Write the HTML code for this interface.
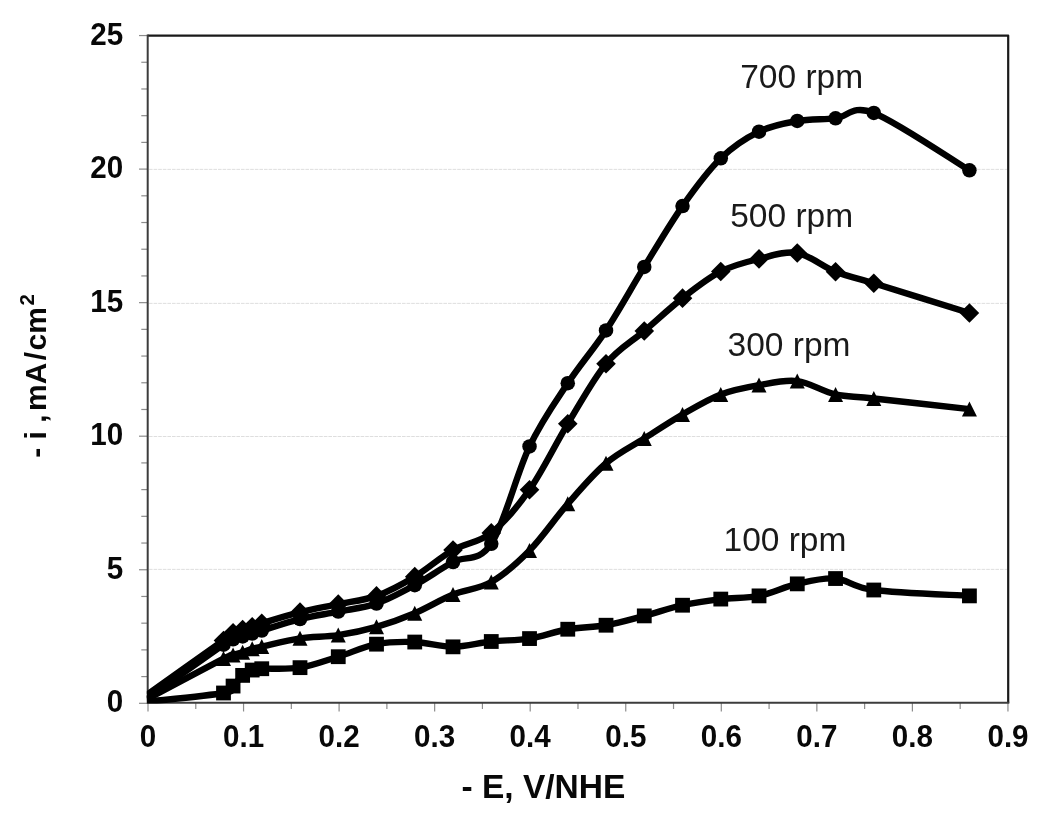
<!DOCTYPE html>
<html><head><meta charset="utf-8"><title>chart</title>
<style>
html,body{margin:0;padding:0;background:#fff;}
body{width:1049px;height:818px;position:relative;overflow:hidden;font-family:"Liberation Sans",sans-serif;color:#080808;}
.t{position:absolute;white-space:nowrap;line-height:1;}
.yl{font-weight:bold;font-size:29.6px;text-align:right;width:60px;left:63.2px;transform:scaleY(1.03);}
.xl{font-weight:bold;font-size:29.6px;transform:scaleY(1.03);text-align:center;width:80px;}
.sl{font-size:33.5px;color:#1a1a1a;}
</style></head><body>
<div id="wrap" style="position:absolute;left:0;top:0;width:1049px;height:818px;filter:blur(0.45px);">
<svg width="1049" height="818" viewBox="0 0 1049 818" style="position:absolute;left:0;top:0">
<rect x="0" y="0" width="1049" height="818" fill="#fff"/>
<defs><clipPath id="pc"><rect x="146.8" y="30" width="870" height="673.6"/></clipPath></defs>
<line x1="149" x2="1007" y1="569.40" y2="569.40" stroke="#d6d6d6" stroke-width="0.8" stroke-dasharray="3.6,1"/>
<line x1="149" x2="1007" y1="436.50" y2="436.50" stroke="#d6d6d6" stroke-width="0.8" stroke-dasharray="3.6,1"/>
<line x1="149" x2="1007" y1="303.40" y2="303.40" stroke="#d6d6d6" stroke-width="0.8" stroke-dasharray="3.6,1"/>
<line x1="149" x2="1007" y1="169.40" y2="169.40" stroke="#d6d6d6" stroke-width="0.8" stroke-dasharray="3.6,1"/>
<line x1="139" x2="147.7" y1="703.30" y2="703.30" stroke="#8c8c8c" stroke-width="1.2"/>
<line x1="141.3" x2="147.7" y1="676.59" y2="676.59" stroke="#8c8c8c" stroke-width="1.2"/>
<line x1="141.3" x2="147.7" y1="649.88" y2="649.88" stroke="#8c8c8c" stroke-width="1.2"/>
<line x1="141.3" x2="147.7" y1="623.17" y2="623.17" stroke="#8c8c8c" stroke-width="1.2"/>
<line x1="141.3" x2="147.7" y1="596.46" y2="596.46" stroke="#8c8c8c" stroke-width="1.2"/>
<line x1="139" x2="147.7" y1="569.75" y2="569.75" stroke="#8c8c8c" stroke-width="1.2"/>
<line x1="141.3" x2="147.7" y1="543.04" y2="543.04" stroke="#8c8c8c" stroke-width="1.2"/>
<line x1="141.3" x2="147.7" y1="516.33" y2="516.33" stroke="#8c8c8c" stroke-width="1.2"/>
<line x1="141.3" x2="147.7" y1="489.62" y2="489.62" stroke="#8c8c8c" stroke-width="1.2"/>
<line x1="141.3" x2="147.7" y1="462.91" y2="462.91" stroke="#8c8c8c" stroke-width="1.2"/>
<line x1="139" x2="147.7" y1="436.20" y2="436.20" stroke="#8c8c8c" stroke-width="1.2"/>
<line x1="141.3" x2="147.7" y1="409.49" y2="409.49" stroke="#8c8c8c" stroke-width="1.2"/>
<line x1="141.3" x2="147.7" y1="382.78" y2="382.78" stroke="#8c8c8c" stroke-width="1.2"/>
<line x1="141.3" x2="147.7" y1="356.07" y2="356.07" stroke="#8c8c8c" stroke-width="1.2"/>
<line x1="141.3" x2="147.7" y1="329.36" y2="329.36" stroke="#8c8c8c" stroke-width="1.2"/>
<line x1="139" x2="147.7" y1="302.65" y2="302.65" stroke="#8c8c8c" stroke-width="1.2"/>
<line x1="141.3" x2="147.7" y1="275.94" y2="275.94" stroke="#8c8c8c" stroke-width="1.2"/>
<line x1="141.3" x2="147.7" y1="249.23" y2="249.23" stroke="#8c8c8c" stroke-width="1.2"/>
<line x1="141.3" x2="147.7" y1="222.52" y2="222.52" stroke="#8c8c8c" stroke-width="1.2"/>
<line x1="141.3" x2="147.7" y1="195.81" y2="195.81" stroke="#8c8c8c" stroke-width="1.2"/>
<line x1="139" x2="147.7" y1="169.10" y2="169.10" stroke="#8c8c8c" stroke-width="1.2"/>
<line x1="141.3" x2="147.7" y1="142.39" y2="142.39" stroke="#8c8c8c" stroke-width="1.2"/>
<line x1="141.3" x2="147.7" y1="115.68" y2="115.68" stroke="#8c8c8c" stroke-width="1.2"/>
<line x1="141.3" x2="147.7" y1="88.97" y2="88.97" stroke="#8c8c8c" stroke-width="1.2"/>
<line x1="141.3" x2="147.7" y1="62.26" y2="62.26" stroke="#8c8c8c" stroke-width="1.2"/>
<line x1="139" x2="147.7" y1="35.55" y2="35.55" stroke="#8c8c8c" stroke-width="1.2"/>
<line y1="702.8" y2="711.5" x1="148.00" x2="148.00" stroke="#8c8c8c" stroke-width="1.2"/>
<line y1="702.8" y2="709.0" x1="195.78" x2="195.78" stroke="#8c8c8c" stroke-width="1.2"/>
<line y1="702.8" y2="711.5" x1="243.55" x2="243.55" stroke="#8c8c8c" stroke-width="1.2"/>
<line y1="702.8" y2="709.0" x1="291.33" x2="291.33" stroke="#8c8c8c" stroke-width="1.2"/>
<line y1="702.8" y2="711.5" x1="339.10" x2="339.10" stroke="#8c8c8c" stroke-width="1.2"/>
<line y1="702.8" y2="709.0" x1="386.88" x2="386.88" stroke="#8c8c8c" stroke-width="1.2"/>
<line y1="702.8" y2="711.5" x1="434.65" x2="434.65" stroke="#8c8c8c" stroke-width="1.2"/>
<line y1="702.8" y2="709.0" x1="482.43" x2="482.43" stroke="#8c8c8c" stroke-width="1.2"/>
<line y1="702.8" y2="711.5" x1="530.20" x2="530.20" stroke="#8c8c8c" stroke-width="1.2"/>
<line y1="702.8" y2="709.0" x1="577.98" x2="577.98" stroke="#8c8c8c" stroke-width="1.2"/>
<line y1="702.8" y2="711.5" x1="625.75" x2="625.75" stroke="#8c8c8c" stroke-width="1.2"/>
<line y1="702.8" y2="709.0" x1="673.53" x2="673.53" stroke="#8c8c8c" stroke-width="1.2"/>
<line y1="702.8" y2="711.5" x1="721.30" x2="721.30" stroke="#8c8c8c" stroke-width="1.2"/>
<line y1="702.8" y2="709.0" x1="769.08" x2="769.08" stroke="#8c8c8c" stroke-width="1.2"/>
<line y1="702.8" y2="711.5" x1="816.85" x2="816.85" stroke="#8c8c8c" stroke-width="1.2"/>
<line y1="702.8" y2="709.0" x1="864.62" x2="864.62" stroke="#8c8c8c" stroke-width="1.2"/>
<line y1="702.8" y2="711.5" x1="912.40" x2="912.40" stroke="#8c8c8c" stroke-width="1.2"/>
<line y1="702.8" y2="709.0" x1="960.18" x2="960.18" stroke="#8c8c8c" stroke-width="1.2"/>
<line y1="702.8" y2="711.5" x1="1007.95" x2="1007.95" stroke="#8c8c8c" stroke-width="1.2"/>
<path d="M147.7,35.6 H1008.2 V702.7" fill="none" stroke="#1a1a1a" stroke-width="2.2" stroke-linejoin="round"/>
<path d="M147.7,34.5 V702.7 H1009.3" fill="none" stroke="#3c3c3c" stroke-width="2"/>
<path d="M147.00,701.80 C159.75,700.33 209.16,695.62 223.50,693.00 C237.85,690.37 229.88,688.99 233.07,686.06 C236.25,683.12 239.44,678.05 242.63,675.39 C245.82,672.72 249.01,671.16 252.19,670.05 C255.38,668.94 253.79,669.12 261.76,668.72 C269.73,668.32 287.26,669.65 300.01,667.65 C312.76,665.65 325.51,660.62 338.26,656.71 C351.01,652.80 363.76,646.62 376.51,644.17 C389.26,641.73 402.01,641.59 414.76,642.04 C427.51,642.48 440.27,646.93 453.02,646.84 C465.77,646.75 478.52,642.88 491.27,641.50 C504.02,640.12 516.77,640.61 529.52,638.57 C542.27,636.52 555.02,631.45 567.77,629.23 C580.52,627.01 593.27,627.45 606.02,625.23 C618.77,623.00 631.53,619.23 644.28,615.89 C657.03,612.55 669.78,608.02 682.53,605.22 C695.28,602.42 708.03,600.64 720.78,599.08 C733.53,597.53 746.28,598.41 759.03,595.88 C771.78,593.35 784.53,586.76 797.28,583.87 C810.03,580.98 822.79,577.52 835.54,578.54 C848.29,579.56 851.47,587.12 873.79,590.01 C896.10,592.90 953.48,594.90 969.42,595.88" fill="none" stroke="#000" stroke-width="6.4" stroke-linejoin="round" clip-path="url(#pc)"/>
<g fill="#000">
<rect x="216.10" y="685.60" width="14.80" height="14.80"/>
<rect x="225.67" y="678.66" width="14.80" height="14.80"/>
<rect x="235.23" y="667.99" width="14.80" height="14.80"/>
<rect x="244.79" y="662.65" width="14.80" height="14.80"/>
<rect x="254.36" y="661.32" width="14.80" height="14.80"/>
<rect x="292.61" y="660.25" width="14.80" height="14.80"/>
<rect x="330.86" y="649.31" width="14.80" height="14.80"/>
<rect x="369.11" y="636.77" width="14.80" height="14.80"/>
<rect x="407.36" y="634.64" width="14.80" height="14.80"/>
<rect x="445.62" y="639.44" width="14.80" height="14.80"/>
<rect x="483.87" y="634.10" width="14.80" height="14.80"/>
<rect x="522.12" y="631.17" width="14.80" height="14.80"/>
<rect x="560.37" y="621.83" width="14.80" height="14.80"/>
<rect x="598.62" y="617.83" width="14.80" height="14.80"/>
<rect x="636.88" y="608.49" width="14.80" height="14.80"/>
<rect x="675.13" y="597.82" width="14.80" height="14.80"/>
<rect x="713.38" y="591.68" width="14.80" height="14.80"/>
<rect x="751.63" y="588.48" width="14.80" height="14.80"/>
<rect x="789.88" y="576.47" width="14.80" height="14.80"/>
<rect x="828.14" y="571.14" width="14.80" height="14.80"/>
<rect x="866.39" y="582.61" width="14.80" height="14.80"/>
<rect x="962.02" y="588.48" width="14.80" height="14.80"/>
</g>
<path d="M147.00,699.13 C159.75,692.37 209.16,665.91 223.50,658.58 C237.85,651.24 229.88,656.18 233.07,655.11 C236.25,654.04 239.44,653.24 242.63,652.17 C245.82,651.11 249.01,649.64 252.19,648.71 C255.38,647.77 253.79,648.31 261.76,646.57 C269.73,644.84 287.26,640.21 300.01,638.30 C312.76,636.39 325.51,637.01 338.26,635.10 C351.01,633.19 363.76,630.48 376.51,626.83 C389.26,623.18 402.01,618.60 414.76,613.22 C427.51,607.84 440.27,599.75 453.02,594.55 C465.77,589.34 478.52,589.34 491.27,582.01 C504.02,574.67 516.77,563.55 529.52,550.52 C542.27,537.50 555.02,518.37 567.77,503.83 C580.52,489.29 593.27,474.17 606.02,463.28 C618.77,452.39 631.53,446.61 644.28,438.47 C657.03,430.33 669.78,421.79 682.53,414.46 C695.28,407.12 708.03,399.34 720.78,394.45 C733.53,389.55 746.28,387.33 759.03,385.11 C771.78,382.88 784.53,379.55 797.28,381.11 C810.03,382.66 822.79,391.56 835.54,394.45 C848.29,397.34 851.47,396.00 873.79,398.45 C896.10,400.89 953.48,407.34 969.42,409.12" fill="none" stroke="#000" stroke-width="6.4" stroke-linejoin="round" clip-path="url(#pc)"/>
<g fill="#000">
<path d="M223.50,651.08 L231.00,666.08 L216.00,666.08 Z"/>
<path d="M233.07,647.61 L240.57,662.61 L225.57,662.61 Z"/>
<path d="M242.63,644.67 L250.13,659.67 L235.13,659.67 Z"/>
<path d="M252.19,641.21 L259.69,656.21 L244.69,656.21 Z"/>
<path d="M261.76,639.07 L269.26,654.07 L254.26,654.07 Z"/>
<path d="M300.01,630.80 L307.51,645.80 L292.51,645.80 Z"/>
<path d="M338.26,627.60 L345.76,642.60 L330.76,642.60 Z"/>
<path d="M376.51,619.33 L384.01,634.33 L369.01,634.33 Z"/>
<path d="M414.76,605.72 L422.26,620.72 L407.26,620.72 Z"/>
<path d="M453.02,587.05 L460.52,602.05 L445.52,602.05 Z"/>
<path d="M491.27,574.51 L498.77,589.51 L483.77,589.51 Z"/>
<path d="M529.52,543.02 L537.02,558.02 L522.02,558.02 Z"/>
<path d="M567.77,496.33 L575.27,511.33 L560.27,511.33 Z"/>
<path d="M606.02,455.78 L613.52,470.78 L598.52,470.78 Z"/>
<path d="M644.28,430.97 L651.78,445.97 L636.78,445.97 Z"/>
<path d="M682.53,406.96 L690.03,421.96 L675.03,421.96 Z"/>
<path d="M720.78,386.95 L728.28,401.95 L713.28,401.95 Z"/>
<path d="M759.03,377.61 L766.53,392.61 L751.53,392.61 Z"/>
<path d="M797.28,373.61 L804.78,388.61 L789.78,388.61 Z"/>
<path d="M835.54,386.95 L843.04,401.95 L828.04,401.95 Z"/>
<path d="M873.79,390.95 L881.29,405.95 L866.29,405.95 Z"/>
<path d="M969.42,401.62 L976.92,416.62 L961.92,416.62 Z"/>
</g>
<path d="M147.00,694.60 C159.75,685.57 209.16,650.75 223.50,640.44 C237.85,630.12 229.88,634.52 233.07,632.70 C236.25,630.88 239.44,630.48 242.63,629.50 C245.82,628.52 249.01,627.85 252.19,626.83 C255.38,625.81 253.79,625.81 261.76,623.36 C269.73,620.91 287.26,615.36 300.01,612.15 C312.76,608.95 325.51,606.86 338.26,604.15 C351.01,601.44 363.76,600.46 376.51,595.88 C389.26,591.30 402.01,584.32 414.76,576.67 C427.51,569.02 440.27,557.28 453.02,549.99 C465.77,542.70 478.52,542.96 491.27,532.92 C504.02,522.87 516.77,507.88 529.52,489.69 C542.27,471.51 555.02,444.78 567.77,423.79 C580.52,402.81 593.27,379.24 606.02,363.76 C618.77,348.29 631.53,341.89 644.28,330.95 C657.03,320.01 669.78,308.05 682.53,298.13 C695.28,288.22 708.03,277.99 720.78,271.45 C733.53,264.91 746.28,261.98 759.03,258.91 C771.78,255.84 784.53,250.91 797.28,253.04 C810.03,255.18 822.79,266.69 835.54,271.72 C848.29,276.74 851.47,276.30 873.79,283.19 C896.10,290.08 953.48,308.09 969.42,313.07" fill="none" stroke="#000" stroke-width="6.4" stroke-linejoin="round" clip-path="url(#pc)"/>
<g fill="#000">
<path d="M223.50,630.64 L233.30,640.44 L223.50,650.24 L213.70,640.44 Z"/>
<path d="M233.07,622.90 L242.87,632.70 L233.07,642.50 L223.27,632.70 Z"/>
<path d="M242.63,619.70 L252.43,629.50 L242.63,639.30 L232.83,629.50 Z"/>
<path d="M252.19,617.03 L261.99,626.83 L252.19,636.63 L242.39,626.83 Z"/>
<path d="M261.76,613.56 L271.56,623.36 L261.76,633.16 L251.96,623.36 Z"/>
<path d="M300.01,602.35 L309.81,612.15 L300.01,621.95 L290.21,612.15 Z"/>
<path d="M338.26,594.35 L348.06,604.15 L338.26,613.95 L328.46,604.15 Z"/>
<path d="M376.51,586.08 L386.31,595.88 L376.51,605.68 L366.71,595.88 Z"/>
<path d="M414.76,566.87 L424.56,576.67 L414.76,586.47 L404.96,576.67 Z"/>
<path d="M453.02,540.19 L462.82,549.99 L453.02,559.79 L443.22,549.99 Z"/>
<path d="M491.27,523.12 L501.07,532.92 L491.27,542.72 L481.47,532.92 Z"/>
<path d="M529.52,479.89 L539.32,489.69 L529.52,499.49 L519.72,489.69 Z"/>
<path d="M567.77,413.99 L577.57,423.79 L567.77,433.59 L557.97,423.79 Z"/>
<path d="M606.02,353.96 L615.82,363.76 L606.02,373.56 L596.22,363.76 Z"/>
<path d="M644.28,321.15 L654.08,330.95 L644.28,340.75 L634.48,330.95 Z"/>
<path d="M682.53,288.33 L692.33,298.13 L682.53,307.93 L672.73,298.13 Z"/>
<path d="M720.78,261.65 L730.58,271.45 L720.78,281.25 L710.98,271.45 Z"/>
<path d="M759.03,249.11 L768.83,258.91 L759.03,268.71 L749.23,258.91 Z"/>
<path d="M797.28,243.24 L807.08,253.04 L797.28,262.84 L787.48,253.04 Z"/>
<path d="M835.54,261.92 L845.34,271.72 L835.54,281.52 L825.74,271.72 Z"/>
<path d="M873.79,273.39 L883.59,283.19 L873.79,292.99 L863.99,283.19 Z"/>
<path d="M969.42,303.27 L979.22,313.07 L969.42,322.87 L959.62,313.07 Z"/>
</g>
<path d="M147.00,698.60 C159.75,689.62 209.16,654.58 223.50,644.70 C237.85,634.83 229.88,640.75 233.07,639.37 C236.25,637.99 239.44,637.41 242.63,636.43 C245.82,635.46 249.01,634.48 252.19,633.50 C255.38,632.52 253.79,632.97 261.76,630.56 C269.73,628.16 287.26,622.25 300.01,619.09 C312.76,615.93 325.51,614.20 338.26,611.62 C351.01,609.04 363.76,608.02 376.51,603.62 C389.26,599.22 402.01,592.14 414.76,585.21 C427.51,578.27 440.27,568.89 453.02,562.00 C465.77,555.10 478.52,563.11 491.27,543.85 C504.02,524.60 516.77,473.24 529.52,446.47 C542.27,419.70 555.02,402.58 567.77,383.24 C580.52,363.90 593.27,349.80 606.02,330.41 C618.77,311.03 631.53,287.64 644.28,266.92 C657.03,246.19 669.78,224.18 682.53,206.09 C695.28,187.99 708.03,170.73 720.78,158.33 C733.53,145.92 746.28,137.87 759.03,131.65 C771.78,125.42 784.53,123.20 797.28,120.98 C810.03,118.75 822.79,119.64 835.54,118.31 C848.29,116.97 851.47,104.30 873.79,112.97 C896.10,121.64 953.48,160.77 969.42,170.33" fill="none" stroke="#000" stroke-width="6.4" stroke-linejoin="round" clip-path="url(#pc)"/>
<g fill="#000">
<circle cx="223.50" cy="644.70" r="7.25"/>
<circle cx="233.07" cy="639.37" r="7.25"/>
<circle cx="242.63" cy="636.43" r="7.25"/>
<circle cx="252.19" cy="633.50" r="7.25"/>
<circle cx="261.76" cy="630.56" r="7.25"/>
<circle cx="300.01" cy="619.09" r="7.25"/>
<circle cx="338.26" cy="611.62" r="7.25"/>
<circle cx="376.51" cy="603.62" r="7.25"/>
<circle cx="414.76" cy="585.21" r="7.25"/>
<circle cx="453.02" cy="562.00" r="7.25"/>
<circle cx="491.27" cy="543.85" r="7.25"/>
<circle cx="529.52" cy="446.47" r="7.25"/>
<circle cx="567.77" cy="383.24" r="7.25"/>
<circle cx="606.02" cy="330.41" r="7.25"/>
<circle cx="644.28" cy="266.92" r="7.25"/>
<circle cx="682.53" cy="206.09" r="7.25"/>
<circle cx="720.78" cy="158.33" r="7.25"/>
<circle cx="759.03" cy="131.65" r="7.25"/>
<circle cx="797.28" cy="120.98" r="7.25"/>
<circle cx="835.54" cy="118.31" r="7.25"/>
<circle cx="873.79" cy="112.97" r="7.25"/>
<circle cx="969.42" cy="170.33" r="7.25"/>
</g>
</svg>
<div class="t yl" style="top:687.0px">0</div>
<div class="t yl" style="top:553.6px">5</div>
<div class="t yl" style="top:420.2px">10</div>
<div class="t yl" style="top:286.8px">15</div>
<div class="t yl" style="top:153.4px">20</div>
<div class="t yl" style="top:20.0px">25</div>
<div class="t xl" style="left:108.0px;top:721.6px">0</div>
<div class="t xl" style="left:203.6px;top:721.6px">0.1</div>
<div class="t xl" style="left:299.1px;top:721.6px">0.2</div>
<div class="t xl" style="left:394.7px;top:721.6px">0.3</div>
<div class="t xl" style="left:490.2px;top:721.6px">0.4</div>
<div class="t xl" style="left:585.8px;top:721.6px">0.5</div>
<div class="t xl" style="left:681.3px;top:721.6px">0.6</div>
<div class="t xl" style="left:776.9px;top:721.6px">0.7</div>
<div class="t xl" style="left:872.4px;top:721.6px">0.8</div>
<div class="t xl" style="left:968.0px;top:721.6px">0.9</div>
<div class="t" style="font-weight:bold;font-size:33.5px;left:461.5px;top:770px;">- E, V/NHE</div>
<div class="t" id="ytitle" style="font-weight:bold;font-size:30px;left:36px;top:375.8px;transform:translate(-50%,-50%) rotate(-90deg);">- i ,<span style="margin-left:3.6px">mA</span><span style="margin:0 1.6px 0 2.2px">/</span>cm<span style="font-size:20.5px;vertical-align:top;position:relative;top:-4px;margin-left:1.5px">2</span></div>
<div class="t sl" style="left:740.2px;top:59.6px">700 rpm</div>
<div class="t sl" style="left:730.2px;top:199.1px">500 rpm</div>
<div class="t sl" style="left:727.6px;top:327.8px">300 rpm</div>
<div class="t sl" style="left:723.5px;top:523.3px">100 rpm</div>
</div></body></html>
